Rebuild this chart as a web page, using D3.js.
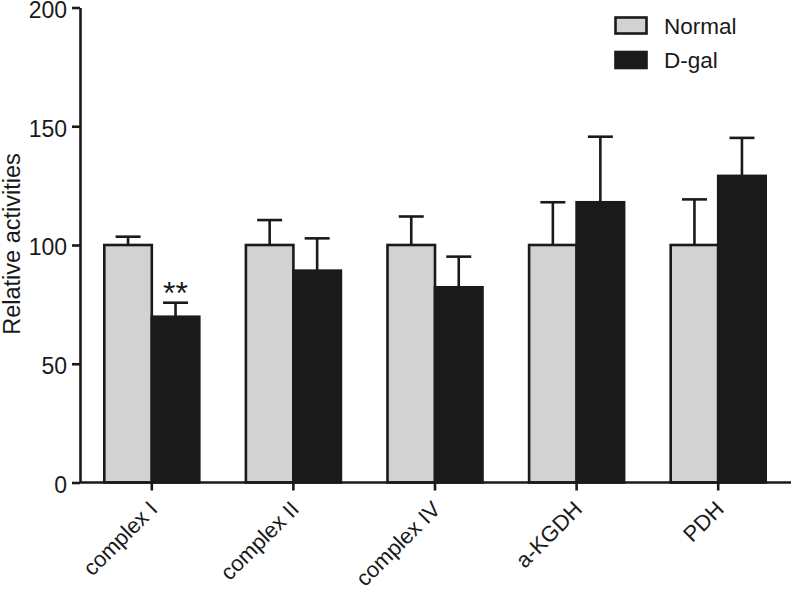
<!DOCTYPE html>
<html>
<head>
<meta charset="utf-8">
<script src="https://cdn.jsdelivr.net/npm/d3@7"></script>
<style>
  html, body { margin: 0; padding: 0; background: #fff; }
  svg { display: block; font-family: "Liberation Sans", Arial, Helvetica, sans-serif; }
</style>
</head>
<body>
<svg id="chart" width="792" height="593"></svg>
<script>
const categories = ["complex I", "complex II", "complex IV", "a-KGDH", "PDH"];
const seriesNames = ["Normal", "D-gal"];
const normalValues = [100, 100, 100, 100, 100];
const normalErrors = [3.5, 10.5, 12, 18, 19.2];
const dgalValues = [69.8, 89.2, 82.2, 118, 129.1];
const dgalErrors = [5.9, 13.6, 12.9, 27.6, 16];
const yTicks = [0, 50, 100, 150, 200];
const significance = ["**", "", "", "", ""];
const yLabel = "Relative activities";

(function () {
const colors = { "Normal": "#d2d2d2", "D-gal": "#1a1a1a" };
const ink = "#1a1a1a";

const svg = d3.select("#chart");
const plotLeft = 80, plotRight = 789, plotTop = 7.5, plotBottom = 482.5;

const x = d3.scaleBand().domain(categories).range([plotLeft + 1, plotRight]).padding(0);
const y = d3.scaleLinear().domain([0, 200]).range([plotBottom, plotTop]);
const barW = 47.5;

const rows = [];
categories.forEach((c, i) => {
  rows.push({ cat: c, series: "Normal", value: normalValues[i], err: normalErrors[i], offset: -barW });
  rows.push({ cat: c, series: "D-gal", value: dgalValues[i], err: dgalErrors[i], offset: 0 });
});

const center = c => x(c) + x.bandwidth() / 2;

// error bars (upper only)
const eb = svg.append("g").attr("stroke", ink).attr("stroke-width", 2.6);
rows.forEach(r => {
  const cx = center(r.cat) + r.offset + barW / 2;
  eb.append("line").attr("x1", cx).attr("x2", cx)
    .attr("y1", y(r.value)).attr("y2", y(r.value + r.err));
  eb.append("line").attr("x1", cx - 12.5).attr("x2", cx + 12.5)
    .attr("y1", y(r.value + r.err)).attr("y2", y(r.value + r.err));
});

// bars
svg.append("g").selectAll("rect").data(rows).join("rect")
  .attr("x", d => center(d.cat) + d.offset)
  .attr("width", barW)
  .attr("y", d => y(d.value))
  .attr("height", d => y(0) - y(d.value))
  .attr("fill", d => colors[d.series])
  .attr("stroke", ink)
  .attr("stroke-width", 2.6);

// significance
categories.forEach((c, i) => {
  if (!significance[i]) return;
  svg.append("text")
    .attr("x", center(c) + barW / 2)
    .attr("y", y(dgalValues[i] + dgalErrors[i]) + 1)
    .attr("text-anchor", "middle")
    .attr("font-size", 32)
    .attr("fill", ink)
    .text(significance[i]);
});

// y axis
const yAxis = d3.axisLeft(y).tickValues(yTicks).tickSize(8).tickPadding(5).tickSizeOuter(0);
const gy = svg.append("g").attr("transform", `translate(${plotLeft},0)`).call(yAxis);
gy.select(".domain").attr("stroke", ink).attr("stroke-width", 2.6);
gy.selectAll(".tick line").attr("stroke", ink).attr("stroke-width", 2.6);
gy.selectAll(".tick text").attr("font-size", 23).attr("fill", ink)
  .attr("dy", "0.43em")
  .attr("font-family", "Liberation Sans, Arial, sans-serif");

// x axis
const xAxis = d3.axisBottom(x).tickSize(8).tickSizeOuter(0).tickFormat(d => d);
const gx = svg.append("g").attr("transform", `translate(0,${plotBottom})`).call(xAxis);
gx.select(".domain").attr("d", `M${plotLeft},0H791`).attr("stroke", ink).attr("stroke-width", 2.6);
gx.selectAll(".tick line").attr("stroke", ink).attr("stroke-width", 2.6);
gx.selectAll(".tick text")
  .attr("font-size", 22).attr("fill", ink)
  .attr("font-family", "Liberation Sans, Arial, sans-serif")
  .attr("text-anchor", "end")
  .attr("y", 0).attr("dy", 0)
  .attr("transform", "translate(7,28) rotate(-45)");

// y label
svg.append("text")
  .attr("transform", "translate(19.5,244) rotate(-90)")
  .attr("text-anchor", "middle")
  .attr("font-size", 23.5)
  .attr("fill", ink)
  .text(yLabel);

// legend
const legend = svg.append("g");
seriesNames.forEach((s, i) => {
  const ly = 17.5 + i * 34.5;
  legend.append("rect").attr("x", 615.5).attr("y", ly).attr("width", 31).attr("height", 16)
    .attr("fill", colors[s]).attr("stroke", ink).attr("stroke-width", 2.6);
  legend.append("text").attr("x", 664).attr("y", ly + 16)
    .attr("font-size", 22.5).attr("fill", ink).text(s);
});
})();
</script>
</body>
</html>
